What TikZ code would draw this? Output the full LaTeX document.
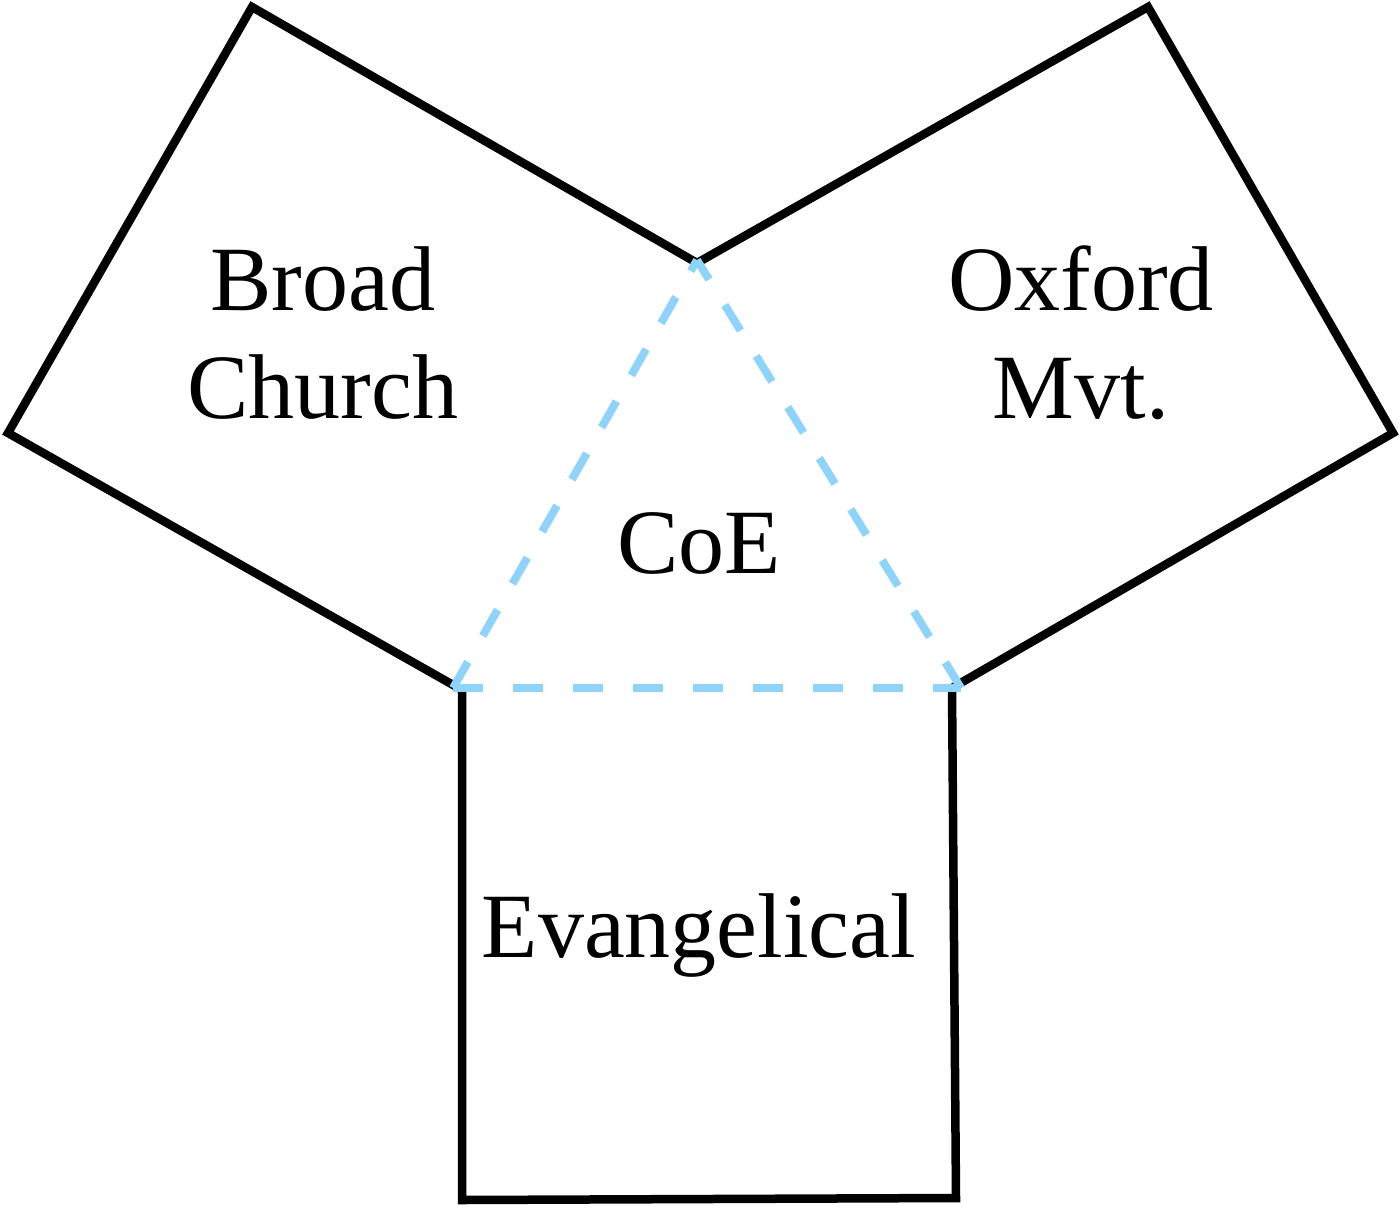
\documentclass[tikz,border=0pt]{standalone}
\usepackage{fontspec}
\setmainfont{Liberation Serif}
\definecolor{coeblue}{RGB}{142,211,251}
\begin{document}
\begin{tikzpicture}[x=1pt,y=-1pt,
  outline/.style={draw=black,line width=8.5pt,line join=miter},
  coeline/.style={draw=coeblue,line width=8pt,dash pattern=on 30pt off 30pt},
  lbl/.style={font=\fontsize{92}{108}\selectfont,inner sep=0pt,anchor=base,align=center}]
\useasboundingbox (0,0) rectangle (1399,1207);
\coordinate (bl) at (462,1200);
\coordinate (br) at (956,1198);
\coordinate (sqtl) at (462,690);
\coordinate (sqtr) at (952,688);
\coordinate (l1) at (8,433);
\coordinate (l2) at (252,7);
\coordinate (top) at (697,263);
\coordinate (r1) at (1148,7);
\coordinate (r2) at (1393,433);
\coordinate (tl) at (453,688);
\coordinate (tr) at (961,688);
\coordinate (tt) at (697,260);
\draw[outline] (bl) -- (sqtl) -- (l1) -- (l2) -- (top) -- (r1) -- (r2) -- (sqtr) -- (br) -- cycle;
\draw[coeline] (tl) -- (tr);
\draw[coeline] (tl) -- (tt);
\draw[coeline] (tr) -- (tt);
\node[lbl] (broad) at (323,418) {Broad\\Church};
\node[lbl] (oxford) at (1081,418) {Oxford\\Mvt.};
\node[lbl] (coe) at (699,573) {CoE};
\node[lbl] (evang) at (699,957) {Evangelical};
\end{tikzpicture}
\end{document}
